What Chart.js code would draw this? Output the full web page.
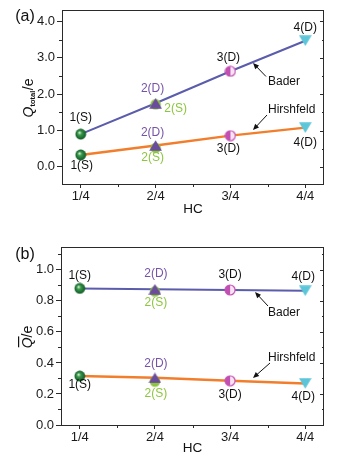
<!DOCTYPE html>
<html>
<head>
<meta charset="utf-8">
<script src="https://cdn.jsdelivr.net/npm/chart.js@4.4.1/dist/chart.umd.min.js"></script>
<style>
  html, body { margin: 0; padding: 0; background: #fff; }
  canvas { display: block; }
</style>
</head>
<body>
<canvas id="chartA" width="339" height="230"></canvas>
<canvas id="chartB" width="339" height="231"></canvas>
<script>
// categories
const hcLabels = ['1/4', '2/4', '3/4', '4/4'];
const hcPos = [1, 2, 3, 4];
const pointNames = ['1(S)', '2(D)', '3(D)', '4(D)'];
const sName = '2(S)';

// (a) total charge
const baderTotal = [0.90, 1.75, 2.63, 3.47];
const hirshTotal = [0.33, 0.59, 0.86, 1.08];
const baderTotalS = 1.72;
const hirshTotalS = 0.52;
const yTicksA = [0, 1, 2, 3, 4];
const yMinorA = [0.5, 1.5, 2.5, 3.5];

// (b) average charge
const baderAvg = [0.88, 0.875, 0.87, 0.865];
const hirshAvg = [0.315, 0.304, 0.285, 0.268];
const baderAvgS = 0.86;
const hirshAvgS = 0.28;
const yTicksB = [0, 0.2, 0.4, 0.6, 0.8, 1.0];
const yMinorB = [0.1, 0.3, 0.5, 0.7, 0.9, 1.1];

const xMinor = [1.5, 2.5, 3.5];

const FONT = '"Liberation Sans", Arial, sans-serif';
const AXIS = '#2a2a2a';
const BADER_COLOR = '#5b5cab';
const HIRSH_COLOR = '#f27e2c';
const PURPLE = '#7652a8';
const LGREEN = '#8cc63f';

Chart.defaults.font.family = FONT;
Chart.defaults.font.size = 13;
Chart.defaults.color = '#1a1a1a';

// marker images
function makeMarker(kind) {
  const c = document.createElement('canvas');
  const tri = kind === 'triUp' || kind === 'triDown';
  c.width = tri ? 13 : 12;
  c.height = tri ? 11 : 12;
  const g = c.getContext('2d');
  if (kind === 'sphere') {
    const grd = g.createRadialGradient(4.6, 4.4, 0.4, 6, 6, 5.6);
    grd.addColorStop(0, '#d4f0d4');
    grd.addColorStop(0.3, '#3c9a4e');
    grd.addColorStop(1, '#0d5520');
    g.fillStyle = grd;
    g.beginPath(); g.arc(6, 6, 5.4, 0, Math.PI * 2); g.fill();
  } else if (kind === 'dot') {
    g.fillStyle = LGREEN;
    g.beginPath(); g.arc(6, 6, 5.2, 0, Math.PI * 2); g.fill();
  } else if (kind === 'half') {
    g.fillStyle = '#f7e4f2';
    g.beginPath(); g.arc(6, 6, 5, 0, Math.PI * 2); g.fill();
    g.fillStyle = '#c24fb2';
    g.beginPath(); g.arc(6, 6, 5, Math.PI / 2, Math.PI * 1.5); g.fill();
    g.strokeStyle = '#c24fb2'; g.lineWidth = 1.2;
    g.beginPath(); g.arc(6, 6, 5, 0, Math.PI * 2); g.stroke();
  } else if (kind === 'triUp') {
    g.fillStyle = '#6a4b9c';
    g.beginPath(); g.moveTo(6.5, 0.3); g.lineTo(12.8, 10.7); g.lineTo(0.2, 10.7); g.closePath(); g.fill();
  } else if (kind === 'triDown') {
    g.fillStyle = '#5cc6d8';
    g.beginPath(); g.moveTo(0.2, 0.3); g.lineTo(12.8, 0.3); g.lineTo(6.5, 10.7); g.closePath(); g.fill();
  }
  return c;
}
const mk = {
  sphere: makeMarker('sphere'),
  dot: makeMarker('dot'),
  half: makeMarker('half'),
  triUp: makeMarker('triUp'),
  triDown: makeMarker('triDown')
};
const markerStyles = [mk.sphere, mk.triUp, mk.half, mk.triDown];

const pts = vals => hcPos.map((p, i) => ({ x: p, y: vals[i] }));

function drawArrow(ctx, x1, y1, x2, y2) {
  const ang = Math.atan2(y2 - y1, x2 - x1);
  const hl = 6, hw = 2.6;
  ctx.beginPath();
  ctx.moveTo(x1, y1);
  ctx.lineTo(x2 - Math.cos(ang) * hl * 0.8, y2 - Math.sin(ang) * hl * 0.8);
  ctx.stroke();
  ctx.beginPath();
  ctx.moveTo(x2, y2);
  ctx.lineTo(x2 - Math.cos(ang) * hl - Math.sin(ang) * hw, y2 - Math.sin(ang) * hl + Math.cos(ang) * hw);
  ctx.lineTo(x2 - Math.cos(ang) * hl + Math.sin(ang) * hw, y2 - Math.sin(ang) * hl - Math.cos(ang) * hw);
  ctx.closePath();
  ctx.fill();
}

function decoPlugin(cfg) {
  return {
    id: 'deco',
    afterDatasetsDraw(chart) {
      const { ctx, chartArea: a } = chart;
      const x = chart.scales.x, y = chart.scales.y;
      ctx.save();
      // frame
      ctx.strokeStyle = AXIS;
      ctx.lineWidth = 1;
      ctx.strokeRect(Math.round(a.left) + 0.5, Math.round(a.top) + 0.5,
        Math.round(a.right - a.left) - 1, Math.round(a.bottom - a.top));
      // minor ticks
      ctx.beginPath();
      xMinor.forEach(v => {
        const px = Math.round(x.getPixelForValue(v)) + 0.5;
        ctx.moveTo(px, a.bottom); ctx.lineTo(px, a.bottom + 3);
      });
      cfg.yMinor.forEach(v => {
        const py = Math.round(y.getPixelForValue(v)) + 0.5;
        ctx.moveTo(a.left - 3, py); ctx.lineTo(a.left, py);
        ctx.moveTo(a.right - 2, py); ctx.lineTo(a.right, py);
      });
      cfg.yTicks.forEach(v => {
        const py = Math.round(y.getPixelForValue(v)) + 0.5;
        ctx.moveTo(a.right - 4, py); ctx.lineTo(a.right, py);
      });
      ctx.stroke();

      // point labels
      ctx.font = '12px ' + FONT;
      ctx.textAlign = 'center';
      ctx.textBaseline = 'middle';
      const put = (txt, xv, yv, off, color) => {
        ctx.fillStyle = color;
        ctx.fillText(txt, x.getPixelForValue(xv) + off[0], y.getPixelForValue(yv) + off[1]);
      };
      [['bader', cfg.bader], ['hirsh', cfg.hirsh]].forEach(([key, vals]) => {
        vals.forEach((v, i) => {
          put(pointNames[i], hcPos[i], v, cfg.off[key][i], i === 1 ? PURPLE : '#111');
        });
      });
      put(sName, 2, cfg.baderS, cfg.off.baderS, LGREEN);
      put(sName, 2, cfg.hirshS, cfg.off.hirshS, LGREEN);

      // annotations
      ctx.fillStyle = '#111';
      ctx.strokeStyle = '#111';
      ctx.lineWidth = 1;
      ctx.textAlign = 'left';
      cfg.notes.forEach(n => {
        ctx.fillText(n.text, n.tx, n.ty);
        drawArrow(ctx, n.ax1, n.ay1, n.ax2, n.ay2);
      });

      // panel letter
      ctx.font = '16px ' + FONT;
      ctx.textAlign = 'center';
      ctx.fillText(cfg.panel, 25, cfg.panelY);

      // x title
      ctx.font = '13.5px ' + FONT;
      ctx.fillText('HC', (a.left + a.right) / 2, cfg.hcY);

      // y title (rotated)
      ctx.translate(28, cfg.titleY);
      ctx.rotate(-Math.PI / 2);
      ctx.textBaseline = 'alphabetic';
      ctx.textAlign = 'left';
      const parts = cfg.title;
      let w = 0;
      parts.forEach(p => { ctx.font = p.f; p.w = ctx.measureText(p.t).width; w += p.w + (p.gap || 0); });
      let cx = -w / 2;
      parts.forEach(p => {
        ctx.font = p.f;
        ctx.fillText(p.t, cx, p.dy);
        if (p.bar) {
          ctx.fillRect(cx + 1, p.dy - 14, p.w, 1.2);
        }
        cx += p.w + (p.gap || 0);
      });
      ctx.restore();
    }
  };
}

function buildChart(id, cfg) {
  return new Chart(document.getElementById(id), {
    type: 'scatter',
    data: {
      datasets: [
        { data: pts(cfg.bader), pointStyle: markerStyles, pointRadius: 6, showLine: false },
        { data: pts(cfg.hirsh), pointStyle: markerStyles, pointRadius: 6, showLine: false },
        { data: [{ x: 2, y: cfg.baderS }, { x: 2, y: cfg.hirshS }], pointStyle: mk.dot, pointRadius: 6, showLine: false },
        { data: pts(cfg.bader), showLine: true, borderColor: BADER_COLOR, borderWidth: 2, pointRadius: 0 },
        { data: pts(cfg.hirsh), showLine: true, borderColor: HIRSH_COLOR, borderWidth: 2.5, pointRadius: 0 }
      ]
    },
    options: {
      responsive: false,
      animation: false,
      events: [],
      layout: { padding: { left: 0, top: cfg.padTop, right: 15, bottom: 0 } },
      plugins: { legend: { display: false }, tooltip: { enabled: false } },
      scales: {
        x: {
          type: 'linear',
          min: 0.75,
          max: 4.25,
          afterBuildTicks: s => { s.ticks = hcPos.map(v => ({ value: v })); },
          afterFit: s => { s.height = cfg.xHeight; },
          ticks: { callback: v => hcLabels[hcPos.indexOf(v)] || '', padding: 1, maxRotation: 0, font: { size: 13 } },
          grid: { drawOnChartArea: false, tickLength: 4, tickColor: AXIS },
          border: { display: false }
        },
        y: {
          min: cfg.yMin,
          max: cfg.yMax,
          afterBuildTicks: s => { s.ticks = cfg.yTicks.map(v => ({ value: v })); },
          afterFit: s => { s.width = cfg.yWidth; },
          ticks: { callback: v => v.toFixed(1), padding: 2, font: { size: 13 } },
          grid: { drawOnChartArea: false, tickLength: 5, tickColor: AXIS },
          border: { display: false }
        }
      }
    },
    plugins: [decoPlugin(cfg)]
  });
}

buildChart('chartA', {
  bader: baderTotal, hirsh: hirshTotal, baderS: baderTotalS, hirshS: hirshTotalS,
  yTicks: yTicksA, yMinor: yMinorA, yMin: -0.47, yMax: 4.32,
  padTop: 9, xHeight: 46, yWidth: 62,
  off: {
    bader: [[0, -16], [-3, -15], [-2, -14], [0, -13]],
    hirsh: [[1, 11], [-3, -13], [-2, 13], [0, 15]],
    baderS: [20, 4], hirshS: [-3, 10]
  },
  notes: [
    { text: 'Bader', tx: 268, ty: 81.5, ax1: 266, ay1: 76.5, ax2: 253, ay2: 63 },
    { text: 'Hirshfeld', tx: 268, ty: 110, ax1: 267, ay1: 115, ax2: 253, ay2: 130 }
  ],
  panel: '(a)', panelY: 17, hcY: 209, titleY: 98,
  title: [
    { t: 'Q', f: 'italic 14px ' + FONT, dy: 5 },
    { t: 'total', f: 'bold 7.5px ' + FONT, dy: 6.5, gap: 0.5 },
    { t: '/e', f: '14px ' + FONT, dy: 5 }
  ]
});

buildChart('chartB', {
  bader: baderAvg, hirsh: hirshAvg, baderS: baderAvgS, hirshS: hirshAvgS,
  yTicks: yTicksB, yMinor: yMinorB, yMin: 0, yMax: 1.147,
  padTop: 17, xHeight: 36, yWidth: 61,
  off: {
    bader: [[0, -13], [1, -16], [0, -15], [-2, -14]],
    hirsh: [[0, 9], [1, -14], [0, 13.5], [-2, 13]],
    baderS: [1, 11], hirshS: [1, 12]
  },
  notes: [
    { text: 'Bader', tx: 268, ty: 83, ax1: 268, ay1: 76, ax2: 255, ay2: 62 },
    { text: 'Hirshfeld', tx: 268, ty: 127.5, ax1: 270, ay1: 133, ax2: 253, ay2: 148 }
  ],
  panel: '(b)', panelY: 25, hcY: 218, titleY: 107,
  title: [
    { t: 'Q', f: 'italic 14px ' + FONT, dy: 4, bar: true },
    { t: '/e', f: '14px ' + FONT, dy: 4 }
  ]
});
</script>
</body>
</html>
